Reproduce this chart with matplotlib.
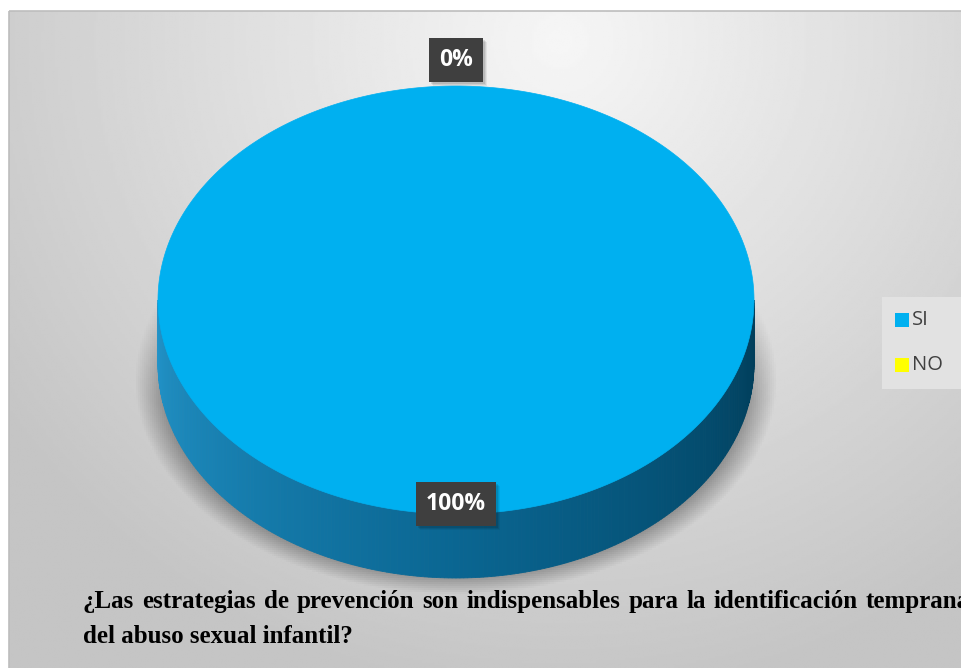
"""3D-style pie chart: prevention strategies survey (SI / NO)."""
import numpy as np
import matplotlib
matplotlib.use("Agg")
import matplotlib.pyplot as plt
from matplotlib.patches import Polygon, Rectangle

# data
categories = ["SI", "NO"]
values = [100, 0]
slice_colors = ["#00b0f0", "#ffff00"]
title_lines = [
	"¿Las estrategias de prevención son indispensables para la identificación temprana",
	"del abuso sexual infantil?",
]

W, H = 962, 668
fig = plt.figure(figsize=(W / 100, H / 100), dpi=100)
fig.patch.set_facecolor("white")
ax = fig.add_axes([0, 0, 1, 1])
ax.set_xlim(0, W)
ax.set_ylim(H, 0)
ax.axis("off")

# chart area background (soft radial grey gradient)
x0, y0 = 9, 11
gx, gy = np.meshgrid(np.linspace(x0, W, 400), np.linspace(y0, H, 300))
d = np.sqrt(((gx - 560) / 700) ** 2 + ((gy - 40) / 680) ** 2)
shade = np.clip(0.965 - 0.2 * d, 0.77, 0.965)
ax.imshow(shade, cmap="gray", vmin=0, vmax=1, extent=(x0, W, H, y0), zorder=0, aspect="auto")
ax.add_patch(Rectangle((x0, y0), W - x0 + 2, H - y0 + 2, fill=False, ec="#bdbdbd", lw=1.2, zorder=1))

# pie geometry (pixels)
cx, cy, rx, ry, depth = 456, 300, 298, 214, 64

# soft floor shadow under the pie
sx, sy = np.meshgrid(np.linspace(60, 860, 400), np.linspace(200, 660, 230))
sd = np.sqrt(((sx - cx) / 322) ** 2 + ((sy - 380) / 215) ** 2)
alpha = np.clip((1.0 - sd) / 0.09, 0, 1) * np.clip((sy - 230) / 170, 0, 1) * 0.32
rgba = np.zeros(sx.shape + (4,))
rgba[..., 3] = alpha
ax.imshow(rgba, extent=(60, 860, 660, 200), zorder=2, aspect="auto")

# slice angles from the values, starting at 12 o'clock, clockwise
fracs = np.array(values, dtype=float) / sum(values)
starts = -np.pi / 2 + 2 * np.pi * np.concatenate([[0], np.cumsum(fracs)[:-1]])
ends = starts + 2 * np.pi * fracs

# side wall (front half), shaded strip by strip
left_c = np.array([0x22, 0x93, 0xc8]) / 255
mid_c = np.array([0x0a, 0x66, 0x92]) / 255
right_c = np.array([0x00, 0x3c, 0x58]) / 255
ts = np.linspace(0, np.pi, 241)
for t1, t2 in zip(ts[:-1], ts[1:]):
	tm = (t1 + t2) / 2
	k = tm / np.pi  # 0 right .. 1 left
	if k < 0.5:
		col = right_c + (mid_c - right_c) * (k / 0.5)
	else:
		col = mid_c + (left_c - mid_c) * ((k - 0.5) / 0.5)
	pts = [(cx + rx * np.cos(t1), cy + ry * np.sin(t1)),
		(cx + rx * np.cos(t2), cy + ry * np.sin(t2)),
		(cx + rx * np.cos(t2), cy + ry * np.sin(t2) + depth),
		(cx + rx * np.cos(t1), cy + ry * np.sin(t1) + depth)]
	ax.add_patch(Polygon(pts, closed=True, fc=col, ec=col, lw=0.6, zorder=3))

# top face wedges
for s, e, c in zip(starts, ends, slice_colors):
	if e - s <= 0:
		continue
	tt = np.linspace(s, e, 400)
	pts = np.column_stack([cx + rx * np.cos(tt), cy + ry * np.sin(tt)])
	if e - s < 2 * np.pi - 1e-9:
		pts = np.vstack([[cx, cy], pts])
	ax.add_patch(Polygon(pts, closed=True, fc=c, ec=c, lw=0.5, zorder=4))

# data labels
label_texts = []
for s, e, v in zip(starts, ends, values):
	mid = (s + e) / 2
	if v == 0:
		lx, ly = cx + (ry + 26) * np.cos(mid), cy + (ry + 26) * np.sin(mid)
	else:
		lx, ly = cx + rx * 0.02 * np.cos(mid), cy + ry * 0.955 * np.sin(mid)
	t = ax.text(lx, ly, f"{v}%", fontsize=16.5, fontweight="bold", family="Open Sans",
		color="white", ha="center", va="center", zorder=6,
		bbox=dict(boxstyle="square,pad=0.44", fc="#3f3f3f", ec="none"))
	label_texts.append(t)

# legend
ax.add_patch(Rectangle((882, 297), 82, 92, fc="#e2e2e2", ec="none", zorder=2))
for i, (name, c) in enumerate(zip(categories, slice_colors)):
	yy = 320 + 45 * i
	ax.add_patch(Rectangle((895, yy - 7), 14, 14, fc=c, ec="none", zorder=3))
	ax.text(912, yy, name, fontsize=14.5, family="Open Sans", color="#404040",
		ha="left", va="center", zorder=3)

fig.canvas.draw()
renderer = fig.canvas.get_renderer()
inv = ax.transData.inverted()

# soft drop shadow behind the label boxes
for t in label_texts:
	bb = t.get_bbox_patch().get_window_extent(renderer)
	(ax0, ay0), (ax1, ay1) = inv.transform([[bb.x0, bb.y0], [bb.x1, bb.y1]])
	for k, a in [(4, 0.06), (3, 0.08), (2, 0.1)]:
		ax.add_patch(Rectangle((min(ax0, ax1) + k, min(ay0, ay1) + k), abs(ax1 - ax0), abs(ay1 - ay0),
			fc="black", ec="none", alpha=a, zorder=5))

# question text, first line justified to the right edge
words = title_lines[0].split(" ")
widths = []
for w in words:
	t = ax.text(0, 0, w, fontsize=18, fontweight="bold", family="Liberation Serif")
	widths.append(t.get_window_extent(renderer).width)
	t.remove()
gap = (970 - 83 - sum(widths)) / (len(words) - 1)
xp = 83
for w, wd in zip(words, widths):
	ax.text(xp, 608, w, fontsize=18, fontweight="bold", family="Liberation Serif",
		color="black", ha="left", va="baseline", zorder=7, clip_on=False)
	xp += wd + gap
ax.text(83, 643, title_lines[1], fontsize=18, fontweight="bold", family="Liberation Serif",
	color="black", ha="left", va="baseline", zorder=7)

fig.savefig("out.png", dpi=100)
